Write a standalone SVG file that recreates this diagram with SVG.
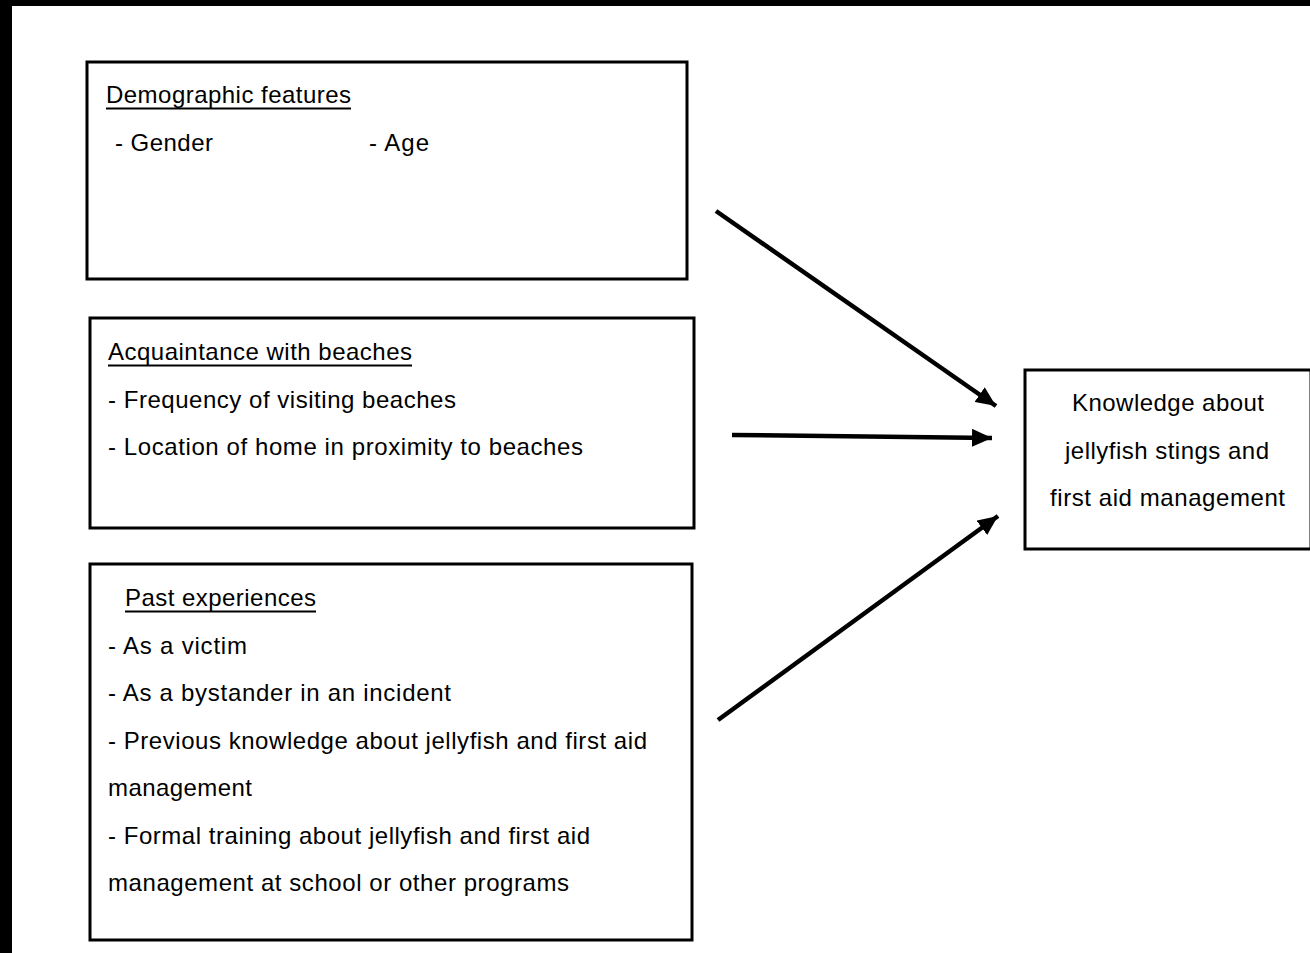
<svg xmlns="http://www.w3.org/2000/svg" width="1310" height="953" viewBox="0 0 1310 953">
<style>
.box{fill:#fff;stroke:#000;stroke-width:3}
.t{font-family:"Liberation Sans",Arial,sans-serif;font-size:24px;fill:#000}
.ul{stroke:#000;stroke-width:2}
.c{stroke:#000;stroke-width:4.5;fill:none}
</style>
<defs>
<marker id="ah" markerUnits="userSpaceOnUse" markerWidth="22" markerHeight="18" refX="20" refY="9" orient="auto">
<path d="M0,0 L20,9 L0,18 Z" fill="#000"/>
</marker>
</defs>
<rect x="0" y="0" width="1310" height="953" fill="#fff"/>
<rect x="0" y="0" width="1310" height="6" fill="#000"/>
<rect x="0" y="0" width="12" height="953" fill="#000"/>
<g id="demographic">
<rect class="box" x="87" y="62" width="600" height="217"/>
<text class="t" x="106" y="103" textLength="245" lengthAdjust="spacing">Demographic features</text>
<line class="ul" x1="106" y1="108.5" x2="351" y2="108.5"/>
<text class="t" x="115" y="151" textLength="98" lengthAdjust="spacing">- Gender</text>
<text class="t" x="369" y="151" textLength="60" lengthAdjust="spacing">- Age</text>
</g>
<g id="acquaintance">
<rect class="box" x="90" y="318" width="604" height="210"/>
<text class="t" x="108" y="360" textLength="304" lengthAdjust="spacing">Acquaintance with beaches</text>
<line class="ul" x1="108" y1="365.5" x2="412" y2="365.5"/>
<text class="t" x="108" y="408" textLength="348" lengthAdjust="spacing">- Frequency of visiting beaches</text>
<text class="t" x="108" y="455" textLength="475" lengthAdjust="spacing">- Location of home in proximity to beaches</text>
</g>
<g id="past">
<rect class="box" x="90" y="564" width="602" height="376"/>
<text class="t" x="125" y="606" textLength="191" lengthAdjust="spacing">Past experiences</text>
<line class="ul" x1="125" y1="611.5" x2="316" y2="611.5"/>
<text class="t" x="108" y="654" textLength="139" lengthAdjust="spacing">- As a victim</text>
<text class="t" x="108" y="701" textLength="343" lengthAdjust="spacing">- As a bystander in an incident</text>
<text class="t" x="108" y="749" textLength="539" lengthAdjust="spacing">- Previous knowledge about jellyfish and first aid</text>
<text class="t" x="108" y="796" textLength="144" lengthAdjust="spacing">management</text>
<text class="t" x="108" y="844" textLength="482" lengthAdjust="spacing">- Formal training about jellyfish and first aid</text>
<text class="t" x="108" y="891" textLength="461" lengthAdjust="spacing">management at school or other programs</text>
</g>
<g id="knowledge">
<rect class="box" x="1025" y="370" width="286" height="179"/>
<text class="t" x="1072" y="411" textLength="192" lengthAdjust="spacing">Knowledge about</text>
<text class="t" x="1065" y="459" textLength="204" lengthAdjust="spacing">jellyfish stings and</text>
<text class="t" x="1050" y="506" textLength="235" lengthAdjust="spacing">first aid management</text>
</g>
<g id="connectors">
<line class="c" x1="716" y1="211" x2="996" y2="406" marker-end="url(#ah)"/>
<line class="c" x1="732" y1="435" x2="992" y2="438" marker-end="url(#ah)"/>
<line class="c" x1="718" y1="720" x2="998" y2="516" marker-end="url(#ah)"/>
</g>
</svg>
